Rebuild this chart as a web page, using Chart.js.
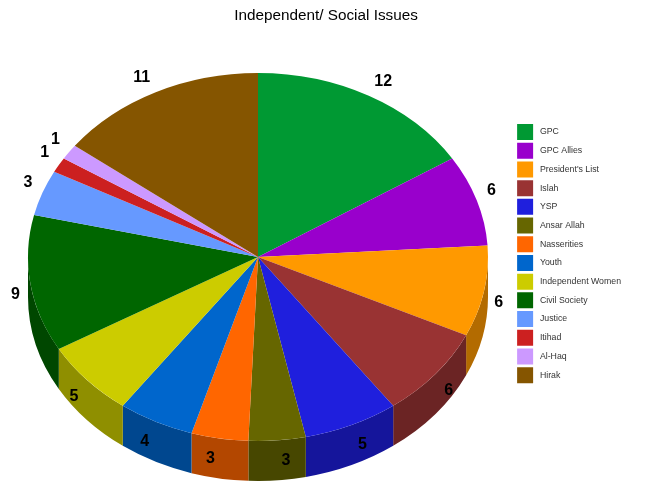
<!DOCTYPE html>
<html>
<head>
<meta charset="utf-8">
<script src="https://cdn.jsdelivr.net/npm/chart.js@4"></script>
<style>
  html, body { margin: 0; padding: 0; background: #fff; }
  canvas { display: block; }
</style>
</head>
<body>
<canvas id="chart" width="647" height="492"></canvas>
<script>
const categories = ["GPC", "GPC Allies", "President's List", "Islah", "YSP", "Ansar Allah", "Nasserities", "Youth", "Independent Women", "Civil Society", "Justice", "Itihad", "Al-Haq", "Hirak"];
const seats = [12, 6, 6, 6, 5, 3, 3, 4, 5, 9, 3, 1, 1, 11];
const colors = ["#009933", "#9900CC", "#FF9900", "#993333", "#1F1FDD", "#666600", "#FF6600", "#0066CC", "#CCCC00", "#006600", "#6699FF", "#CC2020", "#CC99FF", "#855500"];
const wallColors = ["#006B24", "#6B008F", "#B36B00", "#6B2424", "#15159B", "#474700", "#B34700", "#00478F", "#8F8F00", "#004700", "#476BB3", "#8F1616", "#8F6BB3", "#5D3B00"];

// the pie is squashed into an ellipse with a canvas transform
const centerX = 258;
const centerY = 257;
const squash = 0.8;
const depth = 40;

const pie3d = {
  id: "pie3d",
  beforeDatasetsDraw(chart) {
    const ctx = chart.ctx;
    const arcs = chart.getDatasetMeta(0).data;
    const r = arcs[0].outerRadius;
    const ry = r * squash;

    // side wall, only the front half shows
    arcs.forEach((arc, i) => {
      const a0 = Math.max(arc.startAngle, 0);
      const a1 = Math.min(arc.endAngle, Math.PI);
      if (a1 <= a0) return;
      ctx.beginPath();
      ctx.ellipse(centerX, centerY, r, ry, 0, a0, a1);
      ctx.ellipse(centerX, centerY + depth, r, ry, 0, a1, a0, true);
      ctx.closePath();
      ctx.fillStyle = wallColors[i];
      ctx.fill();
    });

    ctx.save();
    ctx.translate(centerX, centerY);
    ctx.scale(1, squash);
    ctx.translate(-arcs[0].x, -arcs[0].y);
  },
  afterDatasetsDraw(chart) {
    const ctx = chart.ctx;
    ctx.restore();

    ctx.save();
    ctx.font = "bold 16px 'Liberation Sans', Arial, sans-serif";
    ctx.fillStyle = "#000";
    ctx.textAlign = "center";
    ctx.textBaseline = "middle";
    chart.getDatasetMeta(0).data.forEach((arc, i) => {
      const mid = (arc.startAngle + arc.endAngle) / 2;
      const dx = Math.cos(mid);
      const dy = Math.sin(mid);
      let x = centerX + 245 * dx + Math.sign(dx) * 8 * (1 - Math.abs(dx));
      let y = centerY + 1.5 + 203 * dy + Math.sign(dy) * 8 * (1 - Math.abs(dy));
      // the two big top slices sit a little further along
      if (dy < -0.8) {
        x += Math.sign(dx) * 3;
        y += 2;
      }
      ctx.fillText(String(seats[i]), x, y);
    });
    ctx.restore();
  }
};

new Chart(document.getElementById("chart"), {
  type: "pie",
  data: {
    labels: categories,
    datasets: [{
      data: seats,
      backgroundColor: colors,
      borderWidth: 0,
      radius: 230
    }]
  },
  options: {
    responsive: false,
    animation: false,
    layout: { padding: { left: 21, right: 16 } },
    plugins: {
      title: {
        display: true,
        text: "Independent/ Social Issues",
        color: "#000",
        font: { family: "'Liberation Sans', Arial, sans-serif", size: 15.3, weight: "normal" },
        padding: { top: 7, bottom: 96 }
      },
      legend: {
        position: "right",
        align: "start",
        fullSize: false,
        labels: {
          boxWidth: 16,
          boxHeight: 16,
          padding: 2.7,
          color: "#333",
          font: { family: "'Liberation Sans', Arial, sans-serif", size: 8.75 },
          generateLabels(chart) {
            return Chart.overrides.pie.plugins.legend.labels.generateLabels(chart).map(item => {
              item.text = " " + item.text;
              return item;
            });
          }
        }
      },
      tooltip: { enabled: false }
    }
  },
  plugins: [pie3d]
});
</script>
</body>
</html>
